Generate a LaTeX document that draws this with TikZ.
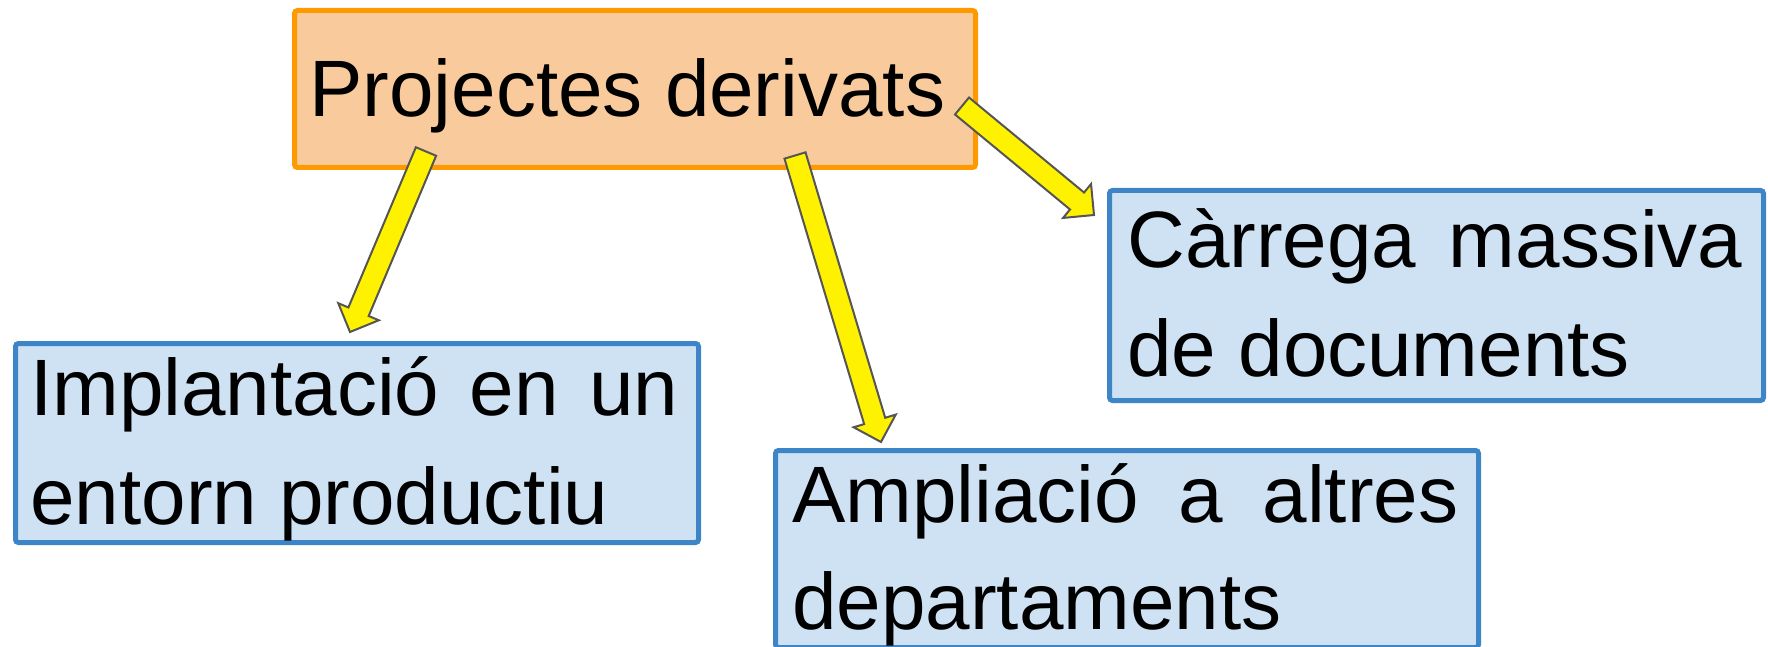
\documentclass[tikz,border=0pt]{standalone}
\usepackage{fontspec}
\setmainfont{Liberation Sans}
\usetikzlibrary{calc}
\definecolor{orfill}{HTML}{F9CB9C}
\definecolor{ordraw}{HTML}{FF9900}
\definecolor{blfill}{HTML}{CFE2F3}
\definecolor{bldraw}{HTML}{3D85C6}
\definecolor{arrline}{HTML}{555555}
\newcommand\blockarrow[2]{%
  \coordinate (hh) at ($(#2)!11pt!(#1)$);
  \filldraw[yarrow] ($(#1)!5.5pt!90:(#2)$) -- ($(hh)!5.5pt!90:(#2)$) -- ($(hh)!11pt!90:(#2)$)
    -- (#2) -- ($(hh)!11pt!-90:(#2)$) -- ($(hh)!5.5pt!-90:(#2)$) -- ($(#1)!5.5pt!-90:(#2)$) -- cycle;}
\begin{document}
\begin{tikzpicture}[x=0.5pt,y=-0.5pt,
  obox/.style={draw=ordraw,fill=orfill,line width=2.5pt,rounded corners=1.5pt,inner sep=0pt,anchor=north west},
  bbox/.style={draw=bldraw,fill=blfill,line width=2.5pt,rounded corners=1.5pt,inner sep=0pt,anchor=north west},
  txt/.style={inner sep=0pt,anchor=base west,font=\fontsize{40}{54}\selectfont},
  yarrow/.style={fill=yellow,draw=arrline,line width=1pt,line join=miter}]
\useasboundingbox (0,0) rectangle (1768,647);
\clip (0,0) rectangle (1768,647);
% boxes
\node[obox,minimum width=340.5pt,minimum height=78.5pt] (top) at (292,8) {};
\node[bbox,minimum width=341.5pt,minimum height=99.5pt] (left) at (13,341) {};
\node[bbox,minimum width=351.5pt,minimum height=98.5pt] (mid) at (773,448) {};
\node[bbox,minimum width=327pt,minimum height=105pt] (right) at (1107,188) {};
% texts
\node[txt] (ttop) at (309,117) {Projectes derivats};
\node[txt] (tl1) at (30,415) {\hbox to 324pt{Implantació\hfill en\hfill un}};
\node[txt] (tl2) at (30,524) {entorn productiu};
\node[txt] (tm1) at (792,522) {\hbox to 333pt{Ampliació\hfill a\hfill altres}};
\node[txt] (tm2) at (792,629) {departaments};
\node[txt] (tr1) at (1127,267) {\hbox to 307.5pt{Càrrega\hfill massiva}};
\node[txt] (tr2) at (1127,376) {de documents};
% arrows
\coordinate (a1s) at (426,151.5);
\coordinate (a1e) at (350,332);
\coordinate (a2s) at (795,155.5);
\coordinate (a2e) at (881,442);
\coordinate (a3s) at (962,106);
\coordinate (a3e) at (1094,215);
\blockarrow{a1s}{a1e}
\blockarrow{a2s}{a2e}
\blockarrow{a3s}{a3e}
\end{tikzpicture}
\end{document}
